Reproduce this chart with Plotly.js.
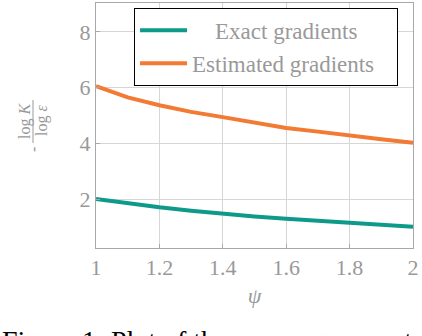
<!DOCTYPE html>
<html>
<head>
<meta charset="utf-8">
<script src="https://cdn.plot.ly/plotly-3.0.1.min.js"></script>
<style>html,body{margin:0;padding:0;background:#fff;}#chart{width:422px;height:336px;}</style>
</head>
<body>
<div id="chart"></div>
<script>
const psi = [1.0, 1.1, 1.2, 1.3, 1.4, 1.5, 1.6, 1.7, 1.8, 1.9, 2.0];
const exactRate = [2.0, 1.84, 1.70, 1.58, 1.47, 1.37, 1.29, 1.22, 1.16, 1.08, 1.0];
const estimatedRate = [6.05, 5.65, 5.37, 5.13, 4.94, 4.73, 4.55, 4.42, 4.30, 4.15, 4.02];
const xTicks = [1, 1.2, 1.4, 1.6, 1.8, 2];
const xTickText = ['1', '1.2', '1.4', '1.6', '1.8', '2'];
const yTicks = [2, 4, 6, 8];
const seriesNames = ['\u00a0\u00a0\u00a0\u00a0Exact gradients', 'Estimated gradients\u00a0\u00a0\u00a0'];

const gray = '#999999';
const serif = 'Liberation Serif, Times New Roman, serif';

const traces = [
  {x: psi, y: exactRate, type: 'scatter', mode: 'lines', name: seriesNames[0],
   line: {color: '#0e9a8b', width: 4}},
  {x: psi, y: estimatedRate, type: 'scatter', mode: 'lines', name: seriesNames[1],
   line: {color: '#f37a33', width: 4}}
];

const layout = {
  width: 422, height: 336,
  margin: {l: 96, r: 9, t: 3, b: 88},
  paper_bgcolor: '#fff', plot_bgcolor: '#fff',
  showlegend: true,
  legend: {x: 0.12, y: 0.98, xanchor: 'left', yanchor: 'top',
    bordercolor: '#000', borderwidth: 1, bgcolor: '#fff',
    font: {family: serif, size: 23, color: gray}, itemwidth: 47,
    tracegroupgap: 0},
  font: {family: serif, color: gray},
  xaxis: {range: [1, 2], tickvals: xTicks, ticktext: xTickText,
    showgrid: true, gridcolor: '#d6d6d6', gridwidth: 1,
    showline: true, linecolor: '#a8a8a8', linewidth: 1, mirror: true,
    ticks: 'inside', ticklen: 4, tickcolor: '#a8a8a8',
    tickfont: {family: serif, size: 22, color: gray}, zeroline: false,
    title: {text: '<i>ψ</i>', font: {family: serif, size: 22, color: gray}, standoff: 8}},
  yaxis: {range: [0.24, 9.04], tickvals: yTicks,
    showgrid: true, gridcolor: '#d6d6d6', gridwidth: 1,
    showline: true, linecolor: '#a8a8a8', linewidth: 1, mirror: true,
    ticks: 'inside', ticklen: 4, tickcolor: '#a8a8a8',
    tickfont: {family: serif, size: 22, color: gray}, zeroline: false},
  annotations: [
    {xref: 'paper', yref: 'paper', x: (25 - 96) / 317, y: (248 - 121) / 245,
     text: 'log <i>K</i>', showarrow: false, textangle: -90,
     font: {family: serif, size: 16, color: gray}, xanchor: 'center', yanchor: 'middle'},
    {xref: 'paper', yref: 'paper', x: (42 - 96) / 317, y: (248 - 121) / 245,
     text: 'log <i>ε</i>', showarrow: false, textangle: -90,
     font: {family: serif, size: 16, color: gray}, xanchor: 'center', yanchor: 'middle'},
    {xref: 'paper', yref: 'paper', x: (33 - 96) / 317, y: (248 - 149) / 245,
     text: '-', showarrow: false, textangle: -90,
     font: {family: serif, size: 16, color: gray}, xanchor: 'center', yanchor: 'middle'},
    {xref: 'paper', yref: 'paper', x: (0 - 96) / 317, y: (248 - 323) / 245,
     text: 'Figure 1: Plot of the convergence rate for', showarrow: false,
     font: {family: serif, size: 28, color: '#000'}, xanchor: 'left', yanchor: 'top'}
  ],
  shapes: [
    {type: 'line', xref: 'paper', yref: 'paper',
     x0: (33 - 96) / 317, x1: (33 - 96) / 317,
     y0: (248 - 100) / 245, y1: (248 - 143) / 245,
     line: {color: gray, width: 1}}
  ]
};

Plotly.newPlot('chart', traces, layout, {displayModeBar: false, staticPlot: true});
</script>
</body>
</html>
